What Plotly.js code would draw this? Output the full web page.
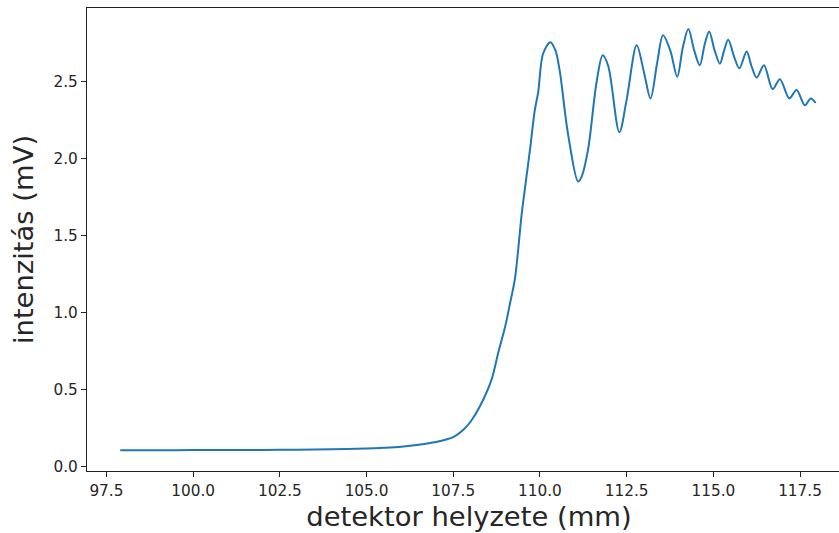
<!DOCTYPE html>
<html>
<head>
<meta charset="utf-8">
<script src="https://cdn.plot.ly/plotly-3.0.1.min.js"></script>
<style>html,body{margin:0;padding:0;background:#fff;overflow:hidden;}#chart{width:851px;height:533px;}</style>
</head>
<body>
<div id="chart"></div>
<script>
// detector position (mm)
const position = [
  97.9, 99.0, 100.0, 101.0, 102.0, 103.0, 104.0, 105.0, 105.5, 106.0, 106.5, 107.0, 107.5, 107.8, 108.0,
  108.27, 108.6, 108.8, 109.0, 109.13, 109.28, 109.37, 109.47, 109.6, 109.71, 109.85, 109.95,
  110.09, 110.3, 110.45, 110.57, 110.81, 111.1, 111.2, 111.39, 111.63, 111.81, 111.97, 112.29, 112.5,
  112.79, 113.0, 113.19, 113.38, 113.55, 113.76, 113.96, 114.12, 114.28, 114.45, 114.61, 114.75, 114.88,
  115.04, 115.19, 115.31, 115.43, 115.6, 115.75, 115.96, 116.1, 116.25, 116.46, 116.71, 116.92,
  117.19, 117.4, 117.64, 117.81, 117.95
];
// intensity (mV)
const intensity = [
  0.105, 0.105, 0.106, 0.106, 0.107, 0.108, 0.111, 0.116, 0.121, 0.128, 0.140, 0.158, 0.19, 0.24, 0.29,
  0.39, 0.56, 0.74, 0.91, 1.05, 1.22, 1.40, 1.63, 1.86, 2.05, 2.31, 2.43,
  2.68, 2.755, 2.70, 2.57, 2.16, 1.85, 1.88, 2.06, 2.49, 2.67, 2.60, 2.17, 2.38,
  2.735, 2.56, 2.39, 2.62, 2.80, 2.70, 2.53, 2.72, 2.84, 2.70, 2.605, 2.74, 2.825,
  2.70, 2.615, 2.70, 2.77, 2.66, 2.585, 2.695, 2.60, 2.525, 2.605, 2.45, 2.515,
  2.39, 2.445, 2.345, 2.39, 2.36
];
const xTickVals = [97.5, 100.0, 102.5, 105.0, 107.5, 110.0, 112.5, 115.0, 117.5];
const xTickText = ["97.5", "100.0", "102.5", "105.0", "107.5", "110.0", "112.5", "115.0", "117.5"];
const yTickVals = [0.0, 0.5, 1.0, 1.5, 2.0, 2.5];
const yTickText = ["0.0", "0.5", "1.0", "1.5", "2.0", "2.5"];

const trace = {
  x: position, y: intensity, type: 'scatter', mode: 'lines',
  line: {color: '#1f77b4', width: 2, shape: 'spline', smoothing: 0.9},
  hoverinfo: 'x+y'
};
const font = {family: 'DejaVu Sans, sans-serif', color: '#262626'};
const layout = {
  width: 851, height: 533,
  margin: {l: 87, r: 0, t: 8, b: 62},
  paper_bgcolor: '#fff', plot_bgcolor: '#fff',
  showlegend: false,
  font: font,
  xaxis: {
    range: [96.94, 118.97], tickvals: xTickVals, ticktext: xTickText,
    showgrid: false, zeroline: false, showline: true, linecolor: '#222', linewidth: 1.2, mirror: true,
    ticks: 'outside', ticklen: 5, tickwidth: 1, tickcolor: '#222',
    tickfont: {family: 'DejaVu Sans, sans-serif', size: 15.3, color: '#262626'},
    title: {text: 'detektor helyzete (mm)', font: {family: 'DejaVu Sans, sans-serif', size: 27.4, color: '#262626'}, standoff: 8}
  },
  yaxis: {
    range: [-0.03, 2.977], tickvals: yTickVals, ticktext: yTickText,
    showgrid: false, zeroline: false, showline: true, linecolor: '#222', linewidth: 1.2, mirror: true,
    ticks: 'outside', ticklen: 5, tickwidth: 1, tickcolor: '#222',
    tickfont: {family: 'DejaVu Sans, sans-serif', size: 15.3, color: '#262626'},
    title: {text: 'intenzitás (mV)', font: {family: 'DejaVu Sans, sans-serif', size: 27.4, color: '#262626'}, standoff: 11}
  }
};
Plotly.newPlot('chart', [trace], layout, {displayModeBar: false, staticPlot: true});
</script>
</body>
</html>
